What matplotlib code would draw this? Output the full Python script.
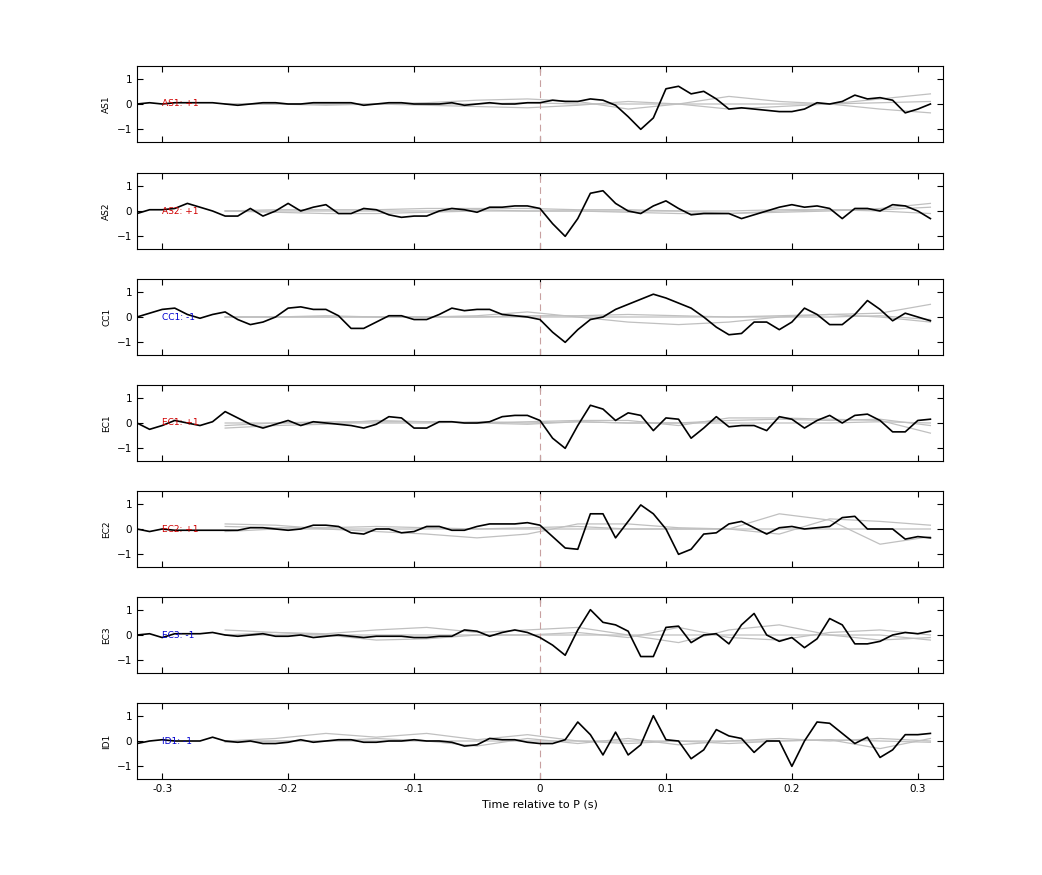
import numpy as np
import matplotlib.pyplot as plt

# station names, polarity labels and label colours
stations = ["AS1", "AS2", "CC1", "EC1", "EC2", "EC3", "ID1"]
labels = ["AS1: +1", "AS2: +1", "CC1: -1", "EC1: +1", "EC2: +1", "EC3: -1", "ID1: -1"]
label_colors = ["#d00000", "#d00000", "#0000d0", "#d00000", "#d00000", "#0000d0", "#0000d0"]

# time of the black traces (s)
t = np.round(np.arange(-0.32, 0.315, 0.01), 2)

as1 = [0.0, 0.05, 0.0, 0.05, 0.05, 0.05, 0.05, 0.0, -0.05, 0.0, 0.05, 0.05, 0.0, 0.0, 0.05, 0.05, 0.05, 0.05,
       -0.05, 0.0, 0.05, 0.05, 0.0, 0.0, 0.0, 0.05, -0.05, 0.0, 0.05, 0.0, 0.0, 0.05,
       0.05, 0.15, 0.1, 0.1, 0.2, 0.15, -0.05, -0.5, -1.0, -0.55, 0.6, 0.7, 0.4, 0.5, 0.2, -0.2,
       -0.15, -0.2, -0.25, -0.3, -0.3, -0.2, 0.05, 0.0, 0.1, 0.35, 0.2, 0.25, 0.15, -0.35, -0.2, 0.0]
as2 = [-0.1, 0.05, 0.05, 0.1, 0.3, 0.15, 0.0, -0.2, -0.2, 0.1, -0.2, 0.0, 0.3, 0.0, 0.15, 0.25,
       -0.1, -0.1, 0.1, 0.05, -0.15, -0.25, -0.2, -0.2, 0.0, 0.1, 0.05, -0.05, 0.15, 0.15, 0.2, 0.2,
       0.1, -0.5, -1.0, -0.3, 0.7, 0.8, 0.3, 0.0, -0.1, 0.2, 0.4, 0.1, -0.15, -0.1, -0.1, -0.1,
       -0.3, -0.15, 0.0, 0.15, 0.25, 0.15, 0.2, 0.1, -0.3, 0.1, 0.1, 0.0, 0.25, 0.2, 0.0, -0.3]
cc1 = [0.0, 0.15, 0.3, 0.35, 0.1, -0.05, 0.1, 0.2, -0.1, -0.3, -0.2, 0.0, 0.35, 0.4, 0.3, 0.3,
       0.05, -0.45, -0.45, -0.2, 0.05, 0.05, -0.1, -0.1, 0.1, 0.35, 0.25, 0.3, 0.3, 0.1, 0.05, 0.0,
       -0.1, -0.6, -1.0, -0.5, -0.1, 0.0, 0.3, 0.5, 0.7, 0.9, 0.75, 0.55, 0.35, 0.0, -0.4, -0.7,
       -0.65, -0.2, -0.2, -0.5, -0.2, 0.35, 0.1, -0.3, -0.3, 0.1, 0.65, 0.3, -0.15, 0.15, 0.0, -0.15]
ec1 = [0.0, -0.25, -0.1, 0.1, 0.0, -0.1, 0.05, 0.45, 0.2, -0.05, -0.2, -0.05, 0.1, -0.1, 0.05, 0.0,
       -0.05, -0.1, -0.2, -0.05, 0.25, 0.2, -0.2, -0.2, 0.05, 0.05, 0.0, 0.0, 0.05, 0.25, 0.3, 0.3,
       0.1, -0.6, -1.0, -0.1, 0.7, 0.55, 0.1, 0.4, 0.3, -0.3, 0.2, 0.15, -0.6, -0.2, 0.25, -0.15,
       -0.1, -0.1, -0.3, 0.25, 0.15, -0.2, 0.1, 0.3, 0.0, 0.3, 0.35, 0.1, -0.35, -0.35, 0.1, 0.15]
ec2 = [0.0, -0.1, 0.0, -0.05, -0.05, -0.05, -0.05, -0.05, -0.05, 0.05, 0.05, 0.0, -0.05, 0.0, 0.15, 0.15,
       0.1, -0.15, -0.2, 0.0, 0.0, -0.15, -0.1, 0.1, 0.1, -0.05, -0.05, 0.1, 0.2, 0.2, 0.2, 0.25,
       0.15, -0.3, -0.75, -0.8, 0.6, 0.6, -0.35, 0.3, 0.95, 0.6, 0.0, -1.0, -0.8, -0.2, -0.15, 0.2,
       0.3, 0.05, -0.2, 0.05, 0.1, 0.0, 0.05, 0.1, 0.45, 0.5, 0.0, 0.0, 0.0, -0.4, -0.3, -0.35]
ec3 = [0.0, 0.05, -0.1, 0.05, 0.05, 0.05, 0.1, 0.0, -0.05, 0.0, 0.05, -0.05, -0.05, 0.0, -0.1, -0.05,
       0.0, -0.05, -0.1, -0.05, -0.05, -0.05, -0.1, -0.1, -0.05, -0.05, 0.2, 0.15, -0.05, 0.1, 0.2, 0.1,
       -0.1, -0.4, -0.8, 0.2, 1.0, 0.5, 0.4, 0.15, -0.85, -0.85, 0.3, 0.35, -0.3, 0.0, 0.05, -0.35,
       0.4, 0.85, 0.0, -0.25, -0.1, -0.5, -0.15, 0.65, 0.4, -0.35, -0.35, -0.25, 0.0, 0.1, 0.05, 0.15]
id1 = [-0.1, 0.0, 0.05, 0.0, 0.0, 0.0, 0.15, 0.0, -0.05, 0.0, -0.1, -0.1, -0.05, 0.05, -0.05, 0.0,
       0.05, 0.05, -0.05, -0.05, 0.0, 0.0, 0.05, 0.0, 0.0, -0.05, -0.2, -0.15, 0.1, 0.05, 0.05, -0.05,
       -0.1, -0.1, 0.05, 0.75, 0.25, -0.55, 0.35, -0.55, -0.15, 1.0, 0.05, 0.0, -0.7, -0.35, 0.45, 0.2,
       0.1, -0.45, 0.0, 0.0, -1.0, 0.0, 0.75, 0.7, 0.3, -0.1, 0.15, -0.65, -0.35, 0.25, 0.25, 0.3]
traces = [as1, as2, cc1, ec1, ec2, ec3, id1]

# time of the grey synthetic traces (s)
tg = np.round(np.arange(-0.25, 0.33, 0.04), 2)
greys = [
    [[0.0, 0.0, -0.05, 0.0, 0.05, 0.15, 0.2, 0.1, -0.2, 0.0, 0.3, 0.1, 0.0, 0.2, 0.4],
     [0.0, 0.0, 0.0, 0.0, -0.05, -0.1, -0.15, -0.05, 0.1, 0.0, -0.2, -0.1, 0.0, -0.2, -0.35],
     [0.0, 0.0, 0.0, 0.0, 0.0, 0.0, 0.05, 0.0, 0.0, 0.0, 0.0, 0.0, 0.0, 0.05, 0.1]],
    [[0.0, 0.05, 0.05, 0.05, 0.1, 0.1, 0.1, 0.05, 0.05, 0.0, -0.1, -0.05, 0.0, 0.1, 0.3],
     [0.0, -0.05, -0.1, -0.1, -0.05, 0.0, 0.0, 0.0, -0.05, -0.1, -0.1, 0.0, 0.05, 0.05, 0.15],
     [0.0, 0.0, 0.0, 0.0, 0.0, 0.05, 0.0, 0.0, 0.0, 0.0, 0.0, 0.05, 0.05, 0.0, -0.1]],
    [[0.0, 0.0, 0.05, 0.0, 0.0, 0.05, 0.2, 0.0, -0.2, -0.3, -0.2, 0.0, 0.1, 0.15, 0.5],
     [0.0, 0.0, 0.0, 0.0, 0.0, 0.0, 0.05, 0.05, 0.1, 0.05, 0.0, 0.05, 0.1, 0.0, -0.2],
     [0.0, 0.0, 0.0, 0.0, 0.0, 0.0, 0.0, 0.0, 0.0, 0.0, 0.0, 0.0, 0.0, 0.05, -0.1]],
    [[-0.2, -0.1, -0.05, 0.1, 0.05, 0.0, 0.05, 0.1, 0.1, -0.1, 0.2, 0.2, 0.15, 0.1, -0.4],
     [0.0, 0.0, 0.05, 0.05, 0.05, 0.0, -0.05, 0.05, 0.0, 0.0, 0.1, 0.15, 0.1, 0.15, -0.1],
     [-0.1, 0.0, 0.0, 0.0, 0.0, 0.05, 0.0, 0.05, 0.0, 0.0, 0.0, 0.0, 0.0, 0.05, 0.0]],
    [[0.2, 0.15, 0.0, -0.1, -0.2, -0.35, -0.2, 0.2, 0.2, 0.05, 0.0, 0.6, 0.35, -0.6, -0.3],
     [0.1, 0.05, 0.05, 0.1, 0.05, 0.0, 0.05, 0.1, 0.0, 0.0, 0.0, -0.2, 0.4, 0.3, 0.15],
     [-0.1, 0.0, 0.0, 0.0, 0.0, 0.0, 0.0, 0.0, 0.0, 0.0, 0.0, 0.0, 0.0, 0.0, 0.0]],
    [[0.2, 0.1, 0.05, 0.2, 0.3, 0.1, 0.2, 0.3, 0.0, -0.3, 0.2, 0.4, 0.0, -0.2, -0.1],
     [0.0, 0.1, 0.0, -0.2, -0.15, 0.0, 0.0, 0.1, -0.1, 0.3, -0.1, -0.2, 0.1, 0.2, 0.0],
     [0.0, 0.0, 0.0, 0.0, 0.0, 0.0, 0.0, 0.0, 0.0, 0.0, 0.0, 0.0, 0.0, 0.0, -0.2]],
    [[0.0, 0.1, 0.3, 0.15, 0.3, 0.05, 0.25, 0.0, 0.0, 0.0, 0.0, 0.0, 0.05, -0.3, 0.1],
     [0.0, 0.0, 0.0, 0.1, 0.0, -0.2, 0.1, -0.1, 0.1, -0.15, 0.0, 0.1, 0.0, 0.1, 0.0],
     [-0.05, 0.0, 0.0, 0.0, 0.0, 0.0, 0.0, 0.0, -0.1, 0.0, -0.1, 0.0, 0.05, 0.0, -0.05]],
]

fig = plt.figure(figsize=(10.42, 8.75), dpi=100)
left, width = 137 / 1042, 806 / 1042
tops = [66, 173, 279, 385, 491, 597, 703]
for i in range(len(stations)):
    ax = fig.add_axes([left, 1 - (tops[i] + 76) / 875, width, 76 / 875])
    for g in greys[i]:
        ax.plot(tg, g, color="#c0c0c0", lw=0.9)
    ax.axvline(0, color="#c8a0a0", lw=0.8, ls=(0, (6, 4)))
    ax.plot(t, traces[i], color="black", lw=1.2)
    ax.text(-0.30, 0, labels[i], color=label_colors[i], fontsize=6.5, va="center")
    ax.set_xlim(-0.32, 0.32)
    ax.set_ylim(-1.5, 1.5)
    ax.set_yticks([-1, 0, 1])
    ax.set_xticks([-0.3, -0.2, -0.1, 0, 0.1, 0.2, 0.3])
    ax.set_ylabel(stations[i], fontsize=6.5)
    ax.tick_params(direction="in", top=True, right=True, labelsize=7.5, length=4)
    if i < len(stations) - 1:
        ax.set_xticklabels([])
    else:
        ax.set_xticklabels(["-0.3", "-0.2", "-0.1", "0", "0.1", "0.2", "0.3"])
        ax.set_xlabel("Time relative to P (s)", fontsize=8)
    for s in ax.spines.values():
        s.set_linewidth(0.8)

fig.savefig("out.png", dpi=100)
